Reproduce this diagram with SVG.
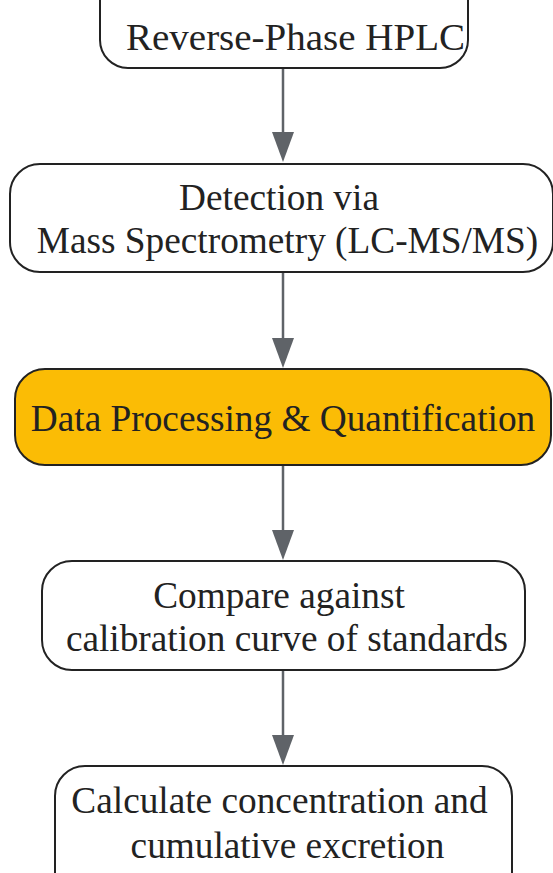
<svg xmlns="http://www.w3.org/2000/svg" width="553" height="873" viewBox="0 0 553 873">
<defs>
<style>
.n{fill:#ffffff;stroke:#222222;stroke-width:2}
.y{fill:#fbbc05}
.t{font-family:"Liberation Serif","Times New Roman",serif;font-size:37.3px;fill:#222222;text-anchor:middle}
.e{stroke:#5f6368;stroke-width:2.5;fill:none}
.a{fill:#5f6368}
</style>
</defs>
<rect width="553" height="873" fill="#ffffff"/>
<g id="connectors">
<line class="e" x1="283" y1="68" x2="283" y2="132"/>
<path class="a" d="M272,132 L294,132 L283,162 Z"/>
<line class="e" x1="283" y1="272" x2="283" y2="338"/>
<path class="a" d="M272,338 L294,338 L283,368 Z"/>
<line class="e" x1="283" y1="465" x2="283" y2="530"/>
<path class="a" d="M272,530 L294,530 L283,560 Z"/>
<line class="e" x1="283" y1="670" x2="283" y2="735"/>
<path class="a" d="M272,735 L294,735 L283,765 Z"/>
</g>
<g id="node1">
<rect class="n" x="100" y="-40" width="368" height="108" rx="28"/>
<text class="t" x="295.5" y="50" textLength="339" lengthAdjust="spacingAndGlyphs">Reverse-Phase HPLC</text>
</g>
<g id="node2">
<rect class="n" x="10" y="164" width="543" height="108" rx="30"/>
<text class="t" x="279" y="210">Detection via</text>
<text class="t" x="287.5" y="253">Mass Spectrometry (LC-MS/MS)</text>
</g>
<g id="node3">
<rect class="n y" x="15" y="369" width="536" height="96" rx="30"/>
<text class="t" x="283" y="431">Data Processing &amp; Quantification</text>
</g>
<g id="node4">
<rect class="n" x="42" y="561" width="483" height="109" rx="30"/>
<text class="t" x="279" y="608">Compare against</text>
<text class="t" x="287" y="651">calibration curve of standards</text>
</g>
<g id="node5">
<rect class="n" x="55" y="766" width="457" height="140" rx="30"/>
<text class="t" x="279.5" y="813">Calculate concentration and</text>
<text class="t" x="287.5" y="858">cumulative excretion</text>
</g>
</svg>
